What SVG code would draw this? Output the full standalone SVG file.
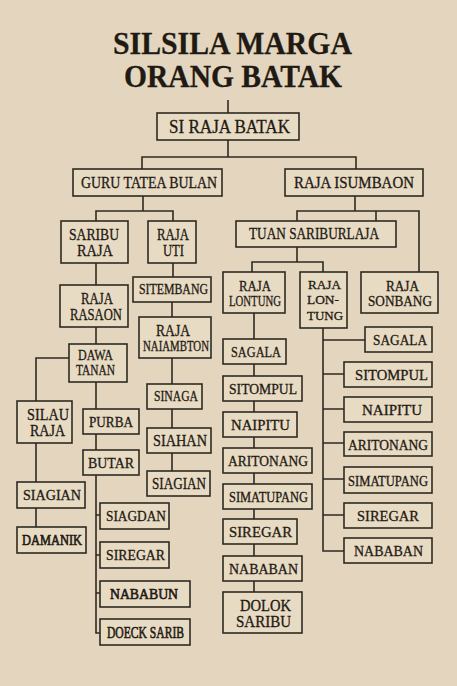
<svg xmlns="http://www.w3.org/2000/svg" width="457" height="686" viewBox="0 0 457 686">
<style>
.bg{fill:#e4d6be}
.box{fill:#e8dbc4;stroke:#2f2a22;stroke-width:1.6}
.ln{fill:none;stroke:#2f2a22;stroke-width:1.6}
.tx text{fill:#1f1a13;stroke:#1f1a13;stroke-width:0.3}
.t{font-weight:bold;font-size:32px;stroke-width:0}
.a{font-size:18px}
.b{font-size:16px}
.c{font-size:15px}
.d{font-size:14px}
.e{font-size:13px}
.tx text.h{stroke-width:0.6}
</style>
<rect class="bg" x="0" y="0" width="457" height="686"/>
<g class="tx" font-family="'Liberation Serif', 'Times New Roman', serif">
<g id="title">
<text class="t" x="113" y="54" textLength="239" lengthAdjust="spacingAndGlyphs">SILSILA MARGA</text>
<text class="t" x="124" y="87" textLength="218" lengthAdjust="spacingAndGlyphs">ORANG BATAK</text>
</g>
<g id="connectors">
<path class="ln" d="M228 100V113"/>
<path class="ln" d="M228 140V157M142 169V157H356V169"/>
<path class="ln" d="M143 196V211M96 221V211H173V221"/>
<path class="ln" d="M96 263V285"/>
<path class="ln" d="M173 263V277M172 302V317M172 358V384M172 409V428M172 453V471"/>
<path class="ln" d="M96 327V344"/>
<path class="ln" d="M69 358H36V401M36 443V482M36 508V527"/>
<path class="ln" d="M96 382V409M96 434V450"/>
<path class="ln" d="M96 475V633H100M96 515H100M96 555H100M96 593H100"/>
<path class="ln" d="M355 196V211M297 221V211H419V272M376 211V221"/>
<path class="ln" d="M297 247V262M252 272V262H323V272"/>
<path class="ln" d="M254 313V339M254 364V376M254 401V412M254 437V448M254 473V484M254 509V519M254 544V556M254 581V592"/>
<path class="ln" d="M323 328V551H344M323 340H365M323 374H344M323 409H344M323 443H344M323 479H344M323 515H344"/>
</g>
<g id="n-siraja"><rect class="box" x="157" y="113" width="142" height="27"/><text class="a" x="169" y="133" textLength="121" lengthAdjust="spacingAndGlyphs">SI RAJA BATAK</text></g>
<g id="n-guru"><rect class="box" x="73" y="169" width="149" height="27"/><text class="b" x="81" y="188" textLength="136" lengthAdjust="spacingAndGlyphs">GURU TATEA BULAN</text></g>
<g id="n-isumbaon"><rect class="box" x="285" y="169" width="138" height="27"/><text class="b" x="294" y="188" textLength="120" lengthAdjust="spacingAndGlyphs">RAJA ISUMBAON</text></g>
<g id="n-saribu"><rect class="box" x="61" y="221" width="67" height="42"/><text class="b" x="69" y="240" textLength="50" lengthAdjust="spacingAndGlyphs">SARIBU</text><text class="b" x="77" y="256" textLength="36" lengthAdjust="spacingAndGlyphs">RAJA</text></g>
<g id="n-uti"><rect class="box" x="148" y="221" width="48" height="42"/><text class="b" x="157" y="240" textLength="32" lengthAdjust="spacingAndGlyphs">RAJA</text><text class="b" x="163" y="256" textLength="21" lengthAdjust="spacingAndGlyphs">UTI</text></g>
<g id="n-rasaon"><rect class="box" x="60" y="285" width="68" height="42"/><text class="b" x="81" y="304" textLength="32" lengthAdjust="spacingAndGlyphs">RAJA</text><text class="b" x="70" y="320" textLength="52" lengthAdjust="spacingAndGlyphs">RASAON</text></g>
<g id="n-sitembang"><rect class="box" x="133" y="277" width="78" height="25"/><text class="d" x="139" y="294" textLength="69" lengthAdjust="spacingAndGlyphs">SITEMBANG</text></g>
<g id="n-naiambton"><rect class="box" x="139" y="317" width="72" height="41"/><text class="b" x="156" y="336" textLength="34" lengthAdjust="spacingAndGlyphs">RAJA</text><text class="d" x="143" y="351" textLength="66" lengthAdjust="spacingAndGlyphs">NAIAMBTON</text></g>
<g id="n-sinaga"><rect class="box" x="147" y="384" width="55" height="25"/><text class="c" x="154" y="401" textLength="44" lengthAdjust="spacingAndGlyphs">SINAGA</text></g>
<g id="n-siahan"><rect class="box" x="147" y="428" width="64" height="25"/><text class="b" x="153" y="446" textLength="54" lengthAdjust="spacingAndGlyphs">SIAHAN</text></g>
<g id="n-siagian2"><rect class="box" x="147" y="471" width="63" height="25"/><text class="b" x="152" y="489" textLength="54" lengthAdjust="spacingAndGlyphs">SIAGIAN</text></g>
<g id="n-dawa"><rect class="box" x="69" y="344" width="58" height="38"/><text class="c" x="78" y="360" textLength="35" lengthAdjust="spacingAndGlyphs">DAWA</text><text class="c" x="76" y="375" textLength="39" lengthAdjust="spacingAndGlyphs">TANAN</text></g>
<g id="n-silau"><rect class="box" x="17" y="401" width="55" height="42"/><text class="b" x="27" y="420" textLength="42" lengthAdjust="spacingAndGlyphs">SILAU</text><text class="b" x="30" y="436" textLength="35" lengthAdjust="spacingAndGlyphs">RAJA</text></g>
<g id="n-purba"><rect class="box" x="83" y="409" width="56" height="25"/><text class="c" x="89" y="427" textLength="44" lengthAdjust="spacingAndGlyphs">PURBA</text></g>
<g id="n-butar"><rect class="box" x="83" y="450" width="56" height="25"/><text class="c" x="88" y="468" textLength="46" lengthAdjust="spacingAndGlyphs">BUTAR</text></g>
<g id="n-siagian1"><rect class="box" x="17" y="482" width="68" height="26"/><text class="c" x="23" y="500" textLength="58" lengthAdjust="spacingAndGlyphs">SIAGIAN</text></g>
<g id="n-damanik"><rect class="box" x="17" y="527" width="69" height="26"/><text class="d h" x="22" y="545" textLength="60" lengthAdjust="spacingAndGlyphs">DAMANIK</text></g>
<g id="n-siagdan"><rect class="box" x="100" y="503" width="69" height="26"/><text class="c" x="106" y="521" textLength="60" lengthAdjust="spacingAndGlyphs">SIAGDAN</text></g>
<g id="n-siregar1"><rect class="box" x="100" y="542" width="69" height="26"/><text class="c" x="106" y="560" textLength="59" lengthAdjust="spacingAndGlyphs">SIREGAR</text></g>
<g id="n-nababun"><rect class="box" x="100" y="581" width="90" height="26"/><text class="c h" x="110" y="599" textLength="68" lengthAdjust="spacingAndGlyphs">NABABUN</text></g>
<g id="n-doeck"><rect class="box" x="100" y="619" width="90" height="26"/><text class="b h" x="107" y="638" textLength="77" lengthAdjust="spacingAndGlyphs">DOECK SARIB</text></g>
<g id="n-tuan"><rect class="box" x="236" y="221" width="160" height="26"/><text class="b" x="249" y="239" textLength="130" lengthAdjust="spacingAndGlyphs">TUAN SARIBURLAJA</text></g>
<g id="n-lontung1"><rect class="box" x="223" y="272" width="62" height="41"/><text class="c" x="239" y="291" textLength="32" lengthAdjust="spacingAndGlyphs">RAJA</text><text class="d" x="229" y="306" textLength="52" lengthAdjust="spacingAndGlyphs">LONTUNG</text></g>
<g id="n-lontung2"><rect class="box" x="300" y="272" width="47" height="56"/><text class="e" x="308" y="289" textLength="33" lengthAdjust="spacingAndGlyphs">RAJA</text><text class="e" x="307" y="304" textLength="32" lengthAdjust="spacingAndGlyphs">LON-</text><text class="e" x="307" y="320" textLength="36" lengthAdjust="spacingAndGlyphs">TUNG</text></g>
<g id="n-sonbang"><rect class="box" x="361" y="272" width="77" height="41"/><text class="c" x="386" y="291" textLength="33" lengthAdjust="spacingAndGlyphs">RAJA</text><text class="c" x="368" y="306" textLength="64" lengthAdjust="spacingAndGlyphs">SONBANG</text></g>
<g id="n-sagala1"><rect class="box" x="223" y="339" width="63" height="25"/><text class="c" x="231" y="357" textLength="50" lengthAdjust="spacingAndGlyphs">SAGALA</text></g>
<g id="n-sitompul1"><rect class="box" x="223" y="376" width="79" height="25"/><text class="c" x="229" y="394" textLength="68" lengthAdjust="spacingAndGlyphs">SITOMPUL</text></g>
<g id="n-naipitu1"><rect class="box" x="223" y="412" width="74" height="25"/><text class="c" x="231" y="430" textLength="59" lengthAdjust="spacingAndGlyphs">NAIPITU</text></g>
<g id="n-aritonang1"><rect class="box" x="223" y="448" width="89" height="25"/><text class="c" x="228" y="466" textLength="80" lengthAdjust="spacingAndGlyphs">ARITONANG</text></g>
<g id="n-simatupang1"><rect class="box" x="223" y="484" width="89" height="25"/><text class="d" x="229" y="502" textLength="79" lengthAdjust="spacingAndGlyphs">SIMATUPANG</text></g>
<g id="n-siregar2"><rect class="box" x="223" y="519" width="74" height="25"/><text class="c" x="229" y="537" textLength="63" lengthAdjust="spacingAndGlyphs">SIREGAR</text></g>
<g id="n-nababan1"><rect class="box" x="223" y="556" width="79" height="25"/><text class="c" x="229" y="574" textLength="69" lengthAdjust="spacingAndGlyphs">NABABAN</text></g>
<g id="n-dolok"><rect class="box" x="223" y="592" width="79" height="41"/><text class="b" x="240" y="611" textLength="51" lengthAdjust="spacingAndGlyphs">DOLOK</text><text class="b" x="236" y="627" textLength="55" lengthAdjust="spacingAndGlyphs">SARIBU</text></g>
<g id="n-sagala2"><rect class="box" x="365" y="327" width="67" height="25"/><text class="c" x="373" y="345" textLength="54" lengthAdjust="spacingAndGlyphs">SAGALA</text></g>
<g id="n-sitompul2"><rect class="box" x="344" y="362" width="88" height="25"/><text class="c" x="355" y="380" textLength="73" lengthAdjust="spacingAndGlyphs">SITOMPUL</text></g>
<g id="n-naipitu2"><rect class="box" x="344" y="397" width="88" height="25"/><text class="c" x="362" y="415" textLength="60" lengthAdjust="spacingAndGlyphs">NAIPITU</text></g>
<g id="n-aritonang2"><rect class="box" x="344" y="432" width="88" height="24"/><text class="c" x="348" y="450" textLength="80" lengthAdjust="spacingAndGlyphs">ARITONANG</text></g>
<g id="n-simatupang2"><rect class="box" x="344" y="467" width="88" height="26"/><text class="d" x="348" y="486" textLength="80" lengthAdjust="spacingAndGlyphs">SIMATUPANG</text></g>
<g id="n-siregar3"><rect class="box" x="344" y="503" width="88" height="25"/><text class="c" x="357" y="521" textLength="62" lengthAdjust="spacingAndGlyphs">SIREGAR</text></g>
<g id="n-nababan2"><rect class="box" x="344" y="538" width="88" height="25"/><text class="c" x="354" y="556" textLength="69" lengthAdjust="spacingAndGlyphs">NABABAN</text></g>
</g>
</svg>
